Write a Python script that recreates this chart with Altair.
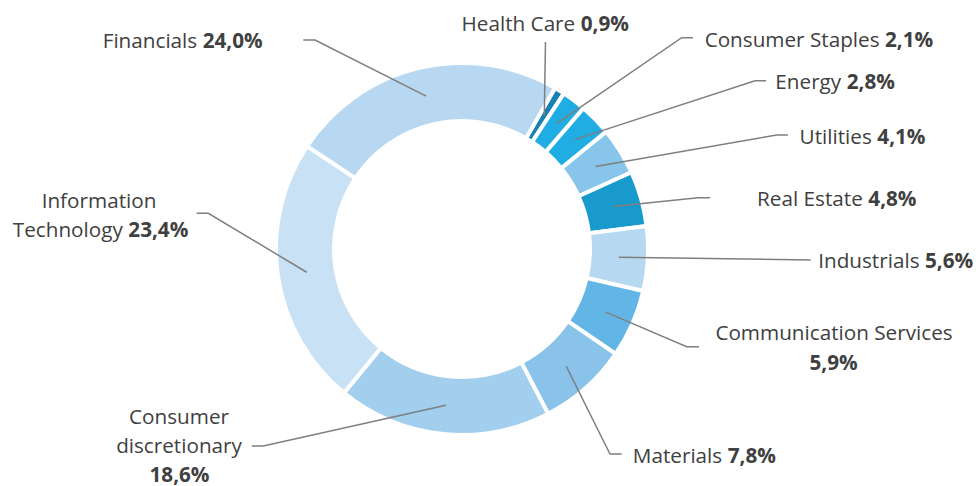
import math
import altair as alt
import pandas as pd

# ---------------- data ----------------
categories = ["Health Care", "Consumer Staples", "Energy", "Utilities", "Real Estate",
              "Industrials", "Communication Services", "Materials",
              "Consumer discretionary", "Information Technology", "Financials"]
shares = [0.9, 2.1, 2.8, 4.1, 4.8, 5.6, 5.9, 7.8, 18.6, 23.4, 24.0]
colors = ["#1582b3", "#1fade3", "#1fade3", "#88c5ea", "#189bcc", "#b6d9f1",
          "#62b6e5", "#89c3ea", "#a3cfee", "#c9e1f4", "#b7d8f0"]

# ---------------- geometry / layout ----------------
W, H = 976, 486
CX, CY = 462, 249
R_OUT, R_IN = 186, 128
START_DEG = 30.0
LEADER_R = 157
FONT = "Open Sans"
FS = 20.7
TXT = "#404040"

# leader path after its start point inside the slice
leader_paths = {
    "Health Care": [(545.5, 42)],
    "Consumer Staples": [(681.7, 37.7), (693, 37.7)],
    "Energy": [(755, 80.7), (766, 80.7)],
    "Utilities": [(776.7, 135), (788, 135)],
    "Real Estate": [(698, 197.7), (710, 197.7)],
    "Industrials": [(810.7, 260)],
    "Communication Services": [(686.7, 346.7), (699, 346.7)],
    "Materials": [(610, 454), (621.7, 454)],
    "Consumer discretionary": [(263.3, 446), (251.7, 446)],
    "Information Technology": [(208.3, 213.3), (196.7, 213.3)],
    "Financials": [(315, 40), (303.3, 40)],
}

# label pieces: (part, x, baseline y, style); part "name", "name0"/"name1" (split lines), "pct"
label_layout = {
    "Health Care": [("name", 575.2, 31, "nr"), ("pct", 580.7, 31, "bl")],
    "Consumer Staples": [("name", 879.5, 46.7, "nr"), ("pct", 885, 46.7, "bl")],
    "Energy": [("name", 841.2, 89, "nr"), ("pct", 846.7, 89, "bl")],
    "Utilities": [("name", 871.8, 144, "nr"), ("pct", 877.3, 144, "bl")],
    "Real Estate": [("name", 862.8, 206, "nr"), ("pct", 868.3, 206, "bl")],
    "Industrials": [("name", 919.5, 267.7, "nr"), ("pct", 925, 267.7, "bl")],
    "Communication Services": [("name", 834, 340, "nc"), ("pct", 833.5, 370, "bc")],
    "Materials": [("name", 722.2, 462.7, "nr"), ("pct", 727.7, 462.7, "bl")],
    "Consumer discretionary": [("name0", 179, 424, "nc"), ("name1", 179, 453, "nc"),
                               ("pct", 179.5, 481.5, "bc")],
    "Information Technology": [("name0", 99, 207.5, "nc"), ("name1", 122.8, 237, "nr"),
                               ("pct", 128.3, 237, "bl")],
    "Financials": [("name", 197.2, 48.3, "nr"), ("pct", 202.7, 48.3, "bl")],
}

# ---------------- tables ----------------
slices = pd.DataFrame({"category": categories, "share": shares, "idx": range(len(categories))})

line_rows, text_rows = [], []
cum = 0.0
for cat, v in zip(categories, shares):
    mid = math.radians(START_DEG + (cum + v / 2) * 3.6)
    cum += v
    sx = CX + LEADER_R * math.sin(mid)
    sy = CY - LEADER_R * math.cos(mid)
    pts = [(sx, sy)] + leader_paths[cat]
    for k, (px, py) in enumerate(pts):
        line_rows.append({"category": cat, "seq": k, "px": px, "py": py})
    pct = f"{v:.1f}".replace(".", ",") + "%"
    words = cat.split(" ", 1)
    for part, tx, ty, style in label_layout[cat]:
        if part == "pct":
            t = pct
        elif part == "name":
            t = cat
        elif part == "name0":
            t = words[0]
        else:
            t = words[1]
        text_rows.append({"category": cat, "t": t, "tx": tx, "ty": ty, "style": style})

lines = pd.DataFrame(line_rows)
texts = pd.DataFrame(text_rows)

# ---------------- chart ----------------
donut = alt.Chart(slices).mark_arc(
    innerRadius=R_IN, outerRadius=R_OUT, stroke="white", strokeWidth=4
).encode(
    theta=alt.Theta("share:Q", stack=True,
                    scale=alt.Scale(range=[math.radians(START_DEG), math.radians(START_DEG) + 2 * math.pi])),
    order=alt.Order("idx:Q"),
    color=alt.Color("category:N", scale=alt.Scale(domain=categories, range=colors), legend=None),
    x=alt.value(CX),
    y=alt.value(CY),
)

leaders = alt.Chart(lines).mark_line(color="#7f7f7f", strokeWidth=1.5).encode(
    x=alt.X("px:Q", scale=None),
    y=alt.Y("py:Q", scale=None),
    detail="category:N",
    order=alt.Order("seq:Q"),
)


def text_layer(style, align, weight):
    return alt.Chart(texts).transform_filter(
        alt.datum.style == style
    ).mark_text(
        align=align, baseline="alphabetic", font=FONT, fontSize=FS,
        fontWeight=weight, color=TXT
    ).encode(
        x=alt.X("tx:Q", scale=None),
        y=alt.Y("ty:Q", scale=None),
        text="t:N",
    )


chart = alt.layer(
    donut, leaders,
    text_layer("nr", "right", "normal"),
    text_layer("nc", "center", "normal"),
    text_layer("bl", "left", "bold"),
    text_layer("bc", "center", "bold"),
).properties(
    width=W, height=H, autosize=alt.AutoSizeParams(type="none"), padding=0
).configure_view(strokeWidth=0)

chart.save("out.html", embed_options={"renderer": "svg", "actions": False})
